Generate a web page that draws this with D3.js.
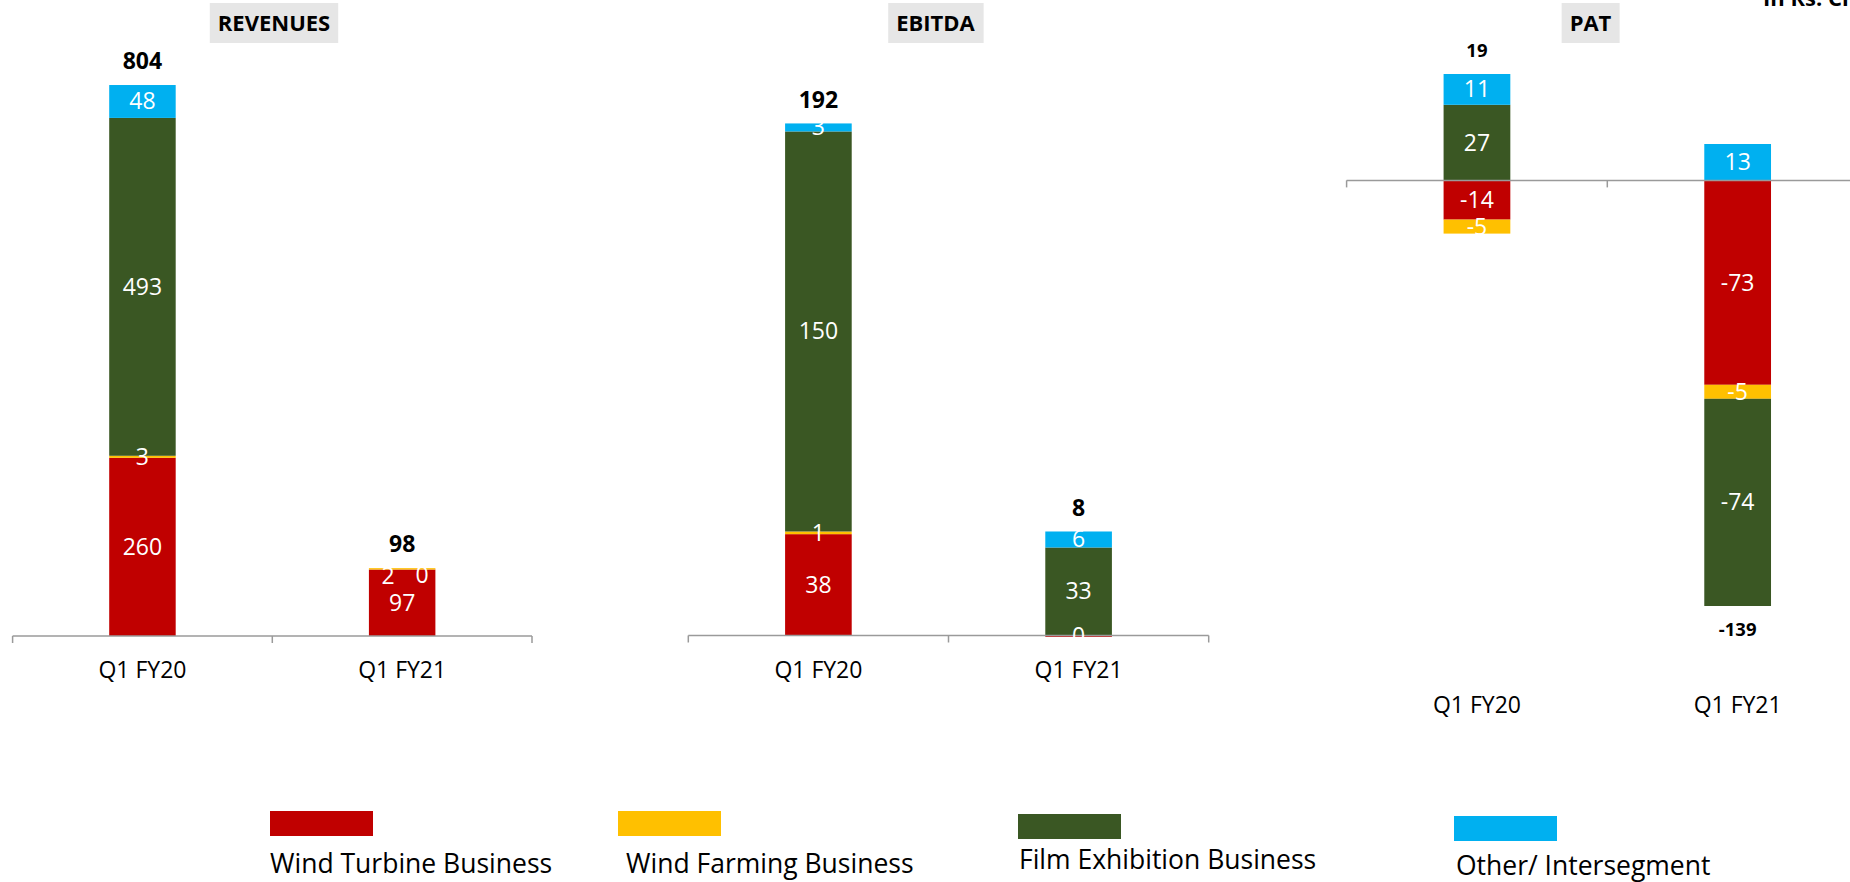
<!DOCTYPE html>
<html>
<head>
<meta charset="utf-8">
<script src="https://cdn.jsdelivr.net/npm/d3@7"></script>
<style>
body { margin: 0; background: #fff; overflow: hidden; }
text { font-family: "Open Sans", sans-serif; }
</style>
</head>
<body>
<div id="chart"></div>
<script>
// data
var categories = ["Q1 FY20", "Q1 FY21"];
var segments = ["Wind Turbine Business", "Wind Farming Business", "Film Exhibition Business", "Other/ Intersegment"];
var segmentColors = ["#c00000", "#ffc000", "#3a5723", "#00b0f0"];

var revenueWindTurbine = [260, 97];
var revenueWindFarming = [3, 2];
var revenueFilm = [493, 0];
var revenueOther = [48, null];
var revenueTotal = [804, 98];

var ebitdaWindTurbine = [38, -0.5];
var ebitdaWindFarming = [1, null];
var ebitdaFilm = [150, 33];
var ebitdaOther = [3, 6];
var ebitdaTotal = [192, 8];

var patWindTurbine = [-14, -73];
var patWindFarming = [-5, -5];
var patFilm = [27, -74];
var patOther = [11, 13];
var patTotal = [19, -139];

// layout
var panels = [
	{title: "REVENUES", titleX: 274, series: [revenueWindTurbine, revenueWindFarming, revenueFilm, revenueOther],
	 totals: revenueTotal, x0: 12.6, x1: 532, axisY: 636, unitPx: 0.6853, catY: 678, totalSize: 23},
	{title: "EBITDA", titleX: 935.5, series: [ebitdaWindTurbine, ebitdaWindFarming, ebitdaFilm, ebitdaOther],
	 totals: ebitdaTotal, x0: 688.3, x1: 1208.7, axisY: 635.5, unitPx: 2.667, catY: 678, totalSize: 23},
	{title: "PAT", titleX: 1590.5, series: [patWindTurbine, patWindFarming, patFilm, patOther],
	 totals: patTotal, x0: 1346.6, x1: 1868, axisY: 180.4, unitPx: 2.80, catY: 713, totalSize: 18.5}
];

// hand-moved labels in the original (dx, dy)
var nudges = {"REVENUES|1|1": [-14, 7], "REVENUES|1|2": [20, 7]};

var legendPos = [
	{x: 270, y: 811, tx: 270, ty: 873},
	{x: 618, y: 811, tx: 626, ty: 873},
	{x: 1018, y: 814, tx: 1019, ty: 869},
	{x: 1454, y: 816, tx: 1456, ty: 875}
];

var svg = d3.select("#chart")
			.append("svg")
			.attr("width", 1850)
			.attr("height", 882);

var keys = ["s0", "s1", "s2", "s3"];

panels.forEach(function(p){
	var rows = categories.map(function(c, i){
		var r = {cat: c, idx: i};
		p.series.forEach(function(s, k){
			r[keys[k]] = s[i] == null ? 0 : s[i];
		});
		return r;
	});

	var stacked = d3.stack()
					.keys(keys)
					.offset(d3.stackOffsetDiverging)(rows);

	var lo = d3.min(stacked, function(s){ return d3.min(s, function(d){ return d[0]; }); });
	var hi = d3.max(stacked, function(s){ return d3.max(s, function(d){ return d[1]; }); });
	lo = Math.min(lo, 0);

	var y = d3.scaleLinear()
			.domain([lo, hi])
			.range([p.axisY - lo * p.unitPx, p.axisY - hi * p.unitPx]);

	var x = d3.scaleBand()
			.domain(categories)
			.range([p.x0, p.x1])
			.paddingInner(0.744)
			.paddingOuter(0.372);

	var g = svg.append("g");

	// title box
	var tg = g.append("g");
	var tt = tg.append("text")
			.attr("x", p.titleX)
			.attr("y", 31)
			.attr("text-anchor", "middle")
			.attr("font-weight", "bold")
			.attr("font-size", 22)
			.attr("fill", "#000")
			.text(p.title);
	var bb = tt.node().getBBox();
	tg.insert("rect", "text")
		.attr("x", bb.x - 8)
		.attr("y", 3)
		.attr("width", bb.width + 16)
		.attr("height", 40)
		.attr("fill", "#e6e6e6");

	// bars
	stacked.forEach(function(s, k){
		g.selectAll(".seg" + k)
			.data(s)
			.enter()
			.append("rect")
			.attr("x", function(d){ return x(d.data.cat); })
			.attr("y", function(d){ return y(Math.max(d[0], d[1])); })
			.attr("width", x.bandwidth())
			.attr("height", function(d){ return Math.abs(y(d[0]) - y(d[1])); })
			.attr("fill", segmentColors[k]);
	});

	// axis line + ticks at category boundaries
	var ay = y(0);
	g.append("line")
		.attr("x1", p.x0).attr("x2", p.x1)
		.attr("y1", ay).attr("y2", ay)
		.attr("stroke", "#9a9a9a")
		.attr("stroke-width", 1.5);
	var step = x.step();
	d3.range(categories.length + 1).forEach(function(i){
		g.append("line")
			.attr("x1", p.x0 + i * step).attr("x2", p.x0 + i * step)
			.attr("y1", ay).attr("y2", ay + 7)
			.attr("stroke", "#9a9a9a")
			.attr("stroke-width", 1.5);
	});

	// segment labels (a zero segment sits on top of the positive stack so far)
	stacked.forEach(function(s, k){
		s.forEach(function(d){
			var v = p.series[k][d.data.idx];
			if(v == null){ return; }
			var mid = (d[0] + d[1]) / 2;
			if(v === 0){
				mid = d3.max(stacked.slice(0, k), function(ss){ return ss[d.data.idx][1]; }) || 0;
			}
			var n = nudges[p.title + "|" + d.data.idx + "|" + k] || [0, 0];
			g.append("text")
				.attr("x", x(d.data.cat) + x.bandwidth() / 2 + n[0])
				.attr("y", y(mid) + 8 + n[1])
				.attr("text-anchor", "middle")
				.attr("font-size", 23)
				.attr("fill", "#fff")
				.text(String(Math.round(v)));
		});
	});

	// totals
	rows.forEach(function(r, i){
		var t = p.totals[i];
		var top = d3.max(stacked, function(s){ return s[i][1]; });
		var bot = d3.min(stacked, function(s){ return s[i][0]; });
		var cy = t >= 0 ? y(top) - 24 : y(bot) + 23;
		g.append("text")
			.attr("x", x(r.cat) + x.bandwidth() / 2)
			.attr("y", cy + p.totalSize * 0.357)
			.attr("text-anchor", "middle")
			.attr("font-weight", "bold")
			.attr("font-size", p.totalSize)
			.attr("fill", "#000")
			.text(t);
	});

	// category labels
	g.selectAll(".cat")
		.data(categories)
		.enter()
		.append("text")
		.attr("x", function(d){ return x(d) + x.bandwidth() / 2; })
		.attr("y", p.catY)
		.attr("text-anchor", "middle")
		.attr("font-size", 23)
		.attr("fill", "#000")
		.text(function(d){ return d; });
});

// unit note, cut at top edge as in the original
svg.append("text")
	.attr("x", 1763)
	.attr("y", 6)
	.attr("font-weight", "bold")
	.attr("font-size", 22)
	.attr("fill", "#000")
	.text("In Rs. Crore");

// legend
var lg = svg.append("g");
segments.forEach(function(name, i){
	var lp = legendPos[i];
	lg.append("rect")
		.attr("x", lp.x)
		.attr("y", lp.y)
		.attr("width", 103)
		.attr("height", 25)
		.attr("fill", segmentColors[i]);
	lg.append("text")
		.attr("x", lp.tx)
		.attr("y", lp.ty)
		.attr("font-size", 26.5)
		.attr("fill", "#000")
		.text(name);
});
</script>
</body>
</html>
